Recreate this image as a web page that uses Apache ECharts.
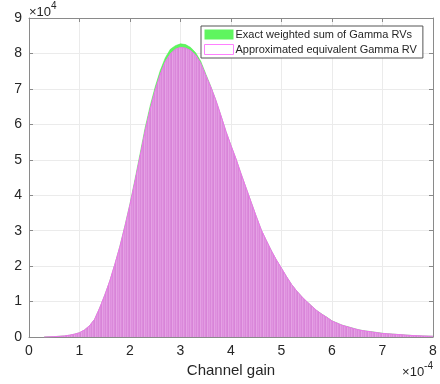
<!DOCTYPE html>
<html>
<head>
<meta charset="utf-8">
<script src="https://cdn.jsdelivr.net/npm/echarts@6/dist/echarts.min.js"></script>
<style>html,body{margin:0;padding:0;background:#fff}#c{width:440px;height:384px}</style>
</head>
<body>
<div id="c"></div>
<script>
// Channel gain bin centres (units of 1e-4)
const gain = [0.3,0.4,0.5,0.6,0.7,0.8,0.9,1.0,1.1,1.2,1.3,1.4,1.5,1.6,1.7,1.8,1.9,2.0,2.1,2.2,2.3,2.4,2.5,2.6,2.7,2.8,2.9,3.0,3.1,3.2,3.3,3.4,3.5,3.6,3.7,3.8,3.9,4.0,4.1,4.2,4.3,4.4,4.5,4.6,4.7,4.8,4.9,5.0,5.1,5.2,5.3,5.4,5.5,5.6,5.7,5.8,5.9,6.0,6.1,6.2,6.3,6.4,6.5,6.6,6.7,6.8,6.9,7.0,7.1,7.2,7.3,7.4,7.5,7.6,7.7,7.8,7.9,8.0];
// Counts (units of 1e4)
const exactCounts = [0,0.005,0.01,0.02,0.03,0.05,0.08,0.12,0.2,0.32,0.5,0.82,1.18,1.58,2.05,2.56,3.14,3.76,4.45,5.17,5.9,6.52,7.06,7.52,7.88,8.12,8.22,8.27,8.25,8.17,8.02,7.78,7.42,7.07,6.68,6.25,5.8,5.4,5.02,4.6,4.2,3.8,3.4,3.02,2.72,2.43,2.17,1.94,1.7,1.48,1.3,1.14,1.0,0.87,0.745,0.645,0.555,0.455,0.395,0.335,0.295,0.255,0.215,0.185,0.165,0.145,0.125,0.105,0.092,0.082,0.072,0.062,0.052,0.042,0.036,0.031,0.026,0.021];
const approxCounts = [0,0.005,0.01,0.02,0.03,0.05,0.08,0.12,0.2,0.32,0.5,0.82,1.18,1.58,2.05,2.55,3.12,3.74,4.4,5.1,5.82,6.43,6.97,7.42,7.77,7.99,8.12,8.17,8.15,8.08,7.95,7.72,7.38,7.05,6.68,6.25,5.8,5.4,5.02,4.6,4.2,3.8,3.4,3.02,2.72,2.43,2.17,1.94,1.7,1.48,1.3,1.14,1.0,0.87,0.74,0.64,0.55,0.45,0.39,0.33,0.29,0.25,0.21,0.18,0.16,0.14,0.12,0.10,0.09,0.08,0.07,0.06,0.05,0.04,0.035,0.03,0.025,0.02];
const xTicks = [0,1,2,3,4,5,6,7,8];
const yTicks = [0,1,2,3,4,5,6,7,8,9];
const legendNames = ['Exact weighted sum of Gamma RVs','Approximated equivalent Gamma RV'];

const exactData = gain.map((g,i)=>[g,exactCounts[i]]);
const approxData = gain.map((g,i)=>[g,approxCounts[i]]);

// striped fill pattern to imitate thin histogram bars
const pc = document.createElement('canvas');
pc.width = 7; pc.height = 4;
const pctx = pc.getContext('2d');
const shades = ['#da88da','#e39ce3','#dc8cdc','#d884d8','#e5a2e5','#dd8edd','#e196e1'];
shades.forEach((s,i)=>{pctx.fillStyle=s;pctx.fillRect(i,0,1,4);});

const axisCol = '#8a8a8a';
const txtCol = '#262626';
const font = 'Liberation Sans, Arial, Helvetica, sans-serif';

const chart = echarts.init(document.getElementById('c'), null, {renderer:'canvas'});
chart.setOption({
  animation:false,
  backgroundColor:'#fff',
  grid:{left:29,right:7,top:18,bottom:47,containLabel:false},
  legend:{
    orient:'vertical', left:201, top:26,
    padding:[3,6,3,3], itemGap:4,
    itemWidth:29, itemHeight:10,
    backgroundColor:'#fff', borderColor:'#555', borderWidth:1,
    textStyle:{fontSize:11, color:txtCol, fontFamily:font, padding:[0,0,0,-3]},
    data:[
      {name:legendNames[0], icon:'rect', itemStyle:{color:'#5ff55f', borderWidth:0}},
      {name:legendNames[1], icon:'rect', itemStyle:{color:'#ffffff', borderColor:'#ff80ff', borderWidth:1}}
    ]
  },
  xAxis:[{
    type:'value', min:0, max:8, interval:1,
    axisLine:{show:true, onZero:false, lineStyle:{color:axisCol, width:1}},
    axisTick:{show:true, inside:true, length:4, lineStyle:{color:axisCol}},
    axisLabel:{show:true, margin:7, fontSize:14, color:txtCol, fontFamily:font, formatter:v=>String(xTicks[Math.round(v)])},
    splitLine:{show:true, lineStyle:{color:'#ebebeb', width:1}},
    name:'Channel gain', nameLocation:'middle', nameGap:25,
    nameTextStyle:{fontSize:15, color:txtCol, fontFamily:font}
  },{
    type:'value', min:0, max:8, interval:1, position:'top',
    axisLine:{show:true, onZero:false, lineStyle:{color:axisCol, width:1}},
    axisTick:{show:true, inside:true, length:4, lineStyle:{color:axisCol}},
    axisLabel:{show:false}, splitLine:{show:false}
  }],
  yAxis:[{
    type:'value', min:0, max:9, interval:1,
    axisLine:{show:true, onZero:false, lineStyle:{color:axisCol, width:1}},
    axisTick:{show:true, inside:true, length:4, lineStyle:{color:axisCol}},
    axisLabel:{show:true, margin:7, fontSize:14, color:txtCol, fontFamily:font, formatter:v=>String(yTicks[Math.round(v)])},
    splitLine:{show:true, lineStyle:{color:'#ebebeb', width:1}}
  },{
    type:'value', min:0, max:9, interval:1, position:'right',
    axisLine:{show:true, onZero:false, lineStyle:{color:axisCol, width:1}},
    axisTick:{show:true, inside:true, length:4, lineStyle:{color:axisCol}},
    axisLabel:{show:false}, splitLine:{show:false}
  }],
  graphic:[
    {type:'text', left:29, top:1, style:{
      text:'{a|×10}{b|4}', fill:txtCol,
      rich:{a:{fontSize:13, fontFamily:font, fill:txtCol, verticalAlign:'bottom'}, b:{fontSize:10, fontFamily:font, fill:txtCol, verticalAlign:'top', padding:[0,0,8,0]}}
    }},
    {type:'text', right:7, top:361, style:{
      text:'{a|×10}{b|-4}', fill:txtCol,
      rich:{a:{fontSize:13, fontFamily:font, fill:txtCol, verticalAlign:'bottom'}, b:{fontSize:10, fontFamily:font, fill:txtCol, verticalAlign:'top', padding:[0,0,8,0]}}
    }}
  ],
  series:[
    {
      name:legendNames[0], type:'line', data:exactData, showSymbol:false, smooth:false,
      lineStyle:{color:'#4cec4c', width:0.6},
      itemStyle:{color:'#5ff55f'},
      areaStyle:{color:'#5ff55f', opacity:1},
      z:2
    },
    {
      name:legendNames[1], type:'line', data:approxData, showSymbol:false, smooth:false,
      lineStyle:{color:'#f070f0', width:1},
      itemStyle:{color:'#ffffff', borderColor:'#ff80ff'},
      areaStyle:{color:{image:pc, repeat:'repeat'}, opacity:1},
      z:3
    }
  ]
});
</script>
</body>
</html>
